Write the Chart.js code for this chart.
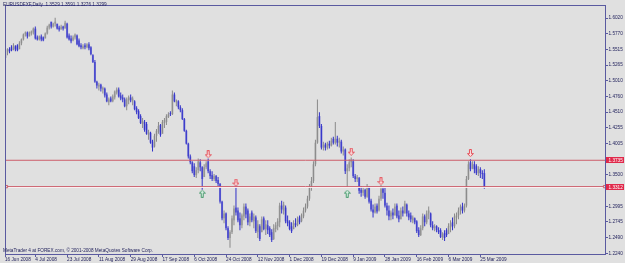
<!DOCTYPE html>
<html><head><meta charset="utf-8">
<script src="https://cdn.jsdelivr.net/npm/chart.js@4/dist/chart.umd.min.js"></script>
<style>html,body{margin:0;padding:0;background:#e0e0e0;}canvas{display:block}</style>
</head><body>
<canvas id="c" width="625" height="263"></canvas>
<script>
const symbolTitle = "EURUSDFXF,Daily  1.3529 1.3591 1.3276 1.3299";
const copyright = "MetaTrader 4 at FOREX.com, \u00a9 2001-2008 MetaQuotes Software Corp.";
const dateLabels = ["16 Jun 2008","4 Jul 2008","23 Jul 2008","11 Aug 2008","29 Aug 2008","17 Sep 2008","6 Oct 2008","24 Oct 2008","12 Nov 2008","1 Dec 2008","19 Dec 2008","9 Jan 2009","28 Jan 2009","16 Feb 2009","6 Mar 2009","25 Mar 2009"];
const barsPerLabel = 16;
const yTickValues = [1.6020,1.5770,1.5515,1.5265,1.5010,1.4760,1.4510,1.4255,1.4005,1.3500,1.2995,1.2745,1.2490,1.2240];

const open = [
1.5377,1.5472,1.5519,1.5551,1.5503,1.5567,1.5582,1.5519,1.5614,1.5677,
1.5756,1.5788,1.5725,1.5772,1.5788,1.5851,1.5709,1.5677,1.5725,1.5709,
1.5693,1.5772,1.5867,1.5962,1.5883,1.5930,1.5930,1.5867,1.5835,1.5883,
1.5851,1.5930,1.5740,1.5693,1.5661,1.5709,1.5740,1.5661,1.5582,1.5535,
1.5582,1.5551,1.5598,1.5551,1.5424,1.5314,1.4998,1.4919,1.4950,1.4871,
1.4887,1.4792,1.4666,1.4729,1.4682,1.4745,1.4824,1.4871,1.4777,1.4745,
1.4713,1.4603,1.4698,1.4745,1.4682,1.4682,1.4571,1.4524,1.4445,1.4318,
1.4350,1.4318,1.4145,1.4176,1.4034,1.3955,1.4129,1.4192,1.4303,1.4160,
1.4334,1.4350,1.4429,1.4492,1.4476,1.4792,1.4666,1.4682,1.4587,1.4540,
1.4397,1.4208,1.4002,1.3797,1.3702,1.3639,1.3497,1.3576,1.3702,1.3623,
1.3465,1.3623,1.3718,1.3560,1.3497,1.3434,1.3481,1.3418,1.3355,1.3070,
1.2802,1.2881,1.2644,1.2486,1.2580,1.2770,1.2975,1.2928,1.2802,1.2691,
1.2833,1.2991,1.2928,1.2738,1.2896,1.2754,1.2817,1.2580,1.2675,1.2580,
1.2802,1.2628,1.2691,1.2644,1.2580,1.2470,1.2628,1.2675,1.2738,1.3007,
1.2928,1.2975,1.2770,1.2738,1.2675,1.2628,1.2723,1.2691,1.2817,1.2754,
1.2833,1.2928,1.2991,1.3118,1.3307,1.3402,1.3671,1.4018,1.4445,1.4287,
1.3939,1.3987,1.3939,1.4002,1.3971,1.4081,1.4018,1.4081,1.4018,1.4034,
1.3876,1.3908,1.3560,1.3607,1.3702,1.3718,1.3481,1.3434,1.3449,1.3260,
1.3212,1.3260,1.3149,1.3307,1.3086,1.2944,1.2896,1.3007,1.2928,1.3118,
1.3276,1.3212,1.3007,1.2928,1.2833,1.2896,1.2849,1.3007,1.2849,1.2786,
1.2928,1.2881,1.3023,1.2881,1.2849,1.2770,1.2802,1.2754,1.2612,1.2533,
1.2644,1.2833,1.2738,1.2881,1.2881,1.2691,1.2644,1.2675,1.2612,1.2612,
1.2501,1.2565,1.2612,1.2549,1.2659,1.2738,1.2675,1.2817,1.2849,1.2928,
1.2991,1.2928,1.3007,1.3434,1.3702,1.3607,1.3671,1.3639,1.3528,1.3592,
1.3528,1.3529];
const high = [
1.5503,1.5535,1.5551,1.5582,1.5614,1.5582,1.5598,1.5646,1.5693,1.5772,
1.5804,1.5804,1.5804,1.5819,1.5867,1.5883,1.5740,1.5740,1.5756,1.5725,
1.5788,1.5898,1.5930,1.5962,1.5946,1.6025,1.5930,1.5898,1.5914,1.5898,
1.5977,1.5946,1.5772,1.5740,1.5740,1.5772,1.5756,1.5693,1.5614,1.5598,
1.5614,1.5614,1.5630,1.5567,1.5440,1.5345,1.5014,1.4982,1.4966,1.4919,
1.4903,1.4824,1.4745,1.4761,1.4792,1.4856,1.4903,1.4903,1.4824,1.4792,
1.4745,1.4745,1.4777,1.4792,1.4761,1.4698,1.4603,1.4555,1.4476,1.4413,
1.4382,1.4350,1.4224,1.4192,1.4066,1.4160,1.4239,1.4350,1.4318,1.4382,
1.4413,1.4476,1.4508,1.4524,1.4856,1.4824,1.4713,1.4698,1.4619,1.4571,
1.4413,1.4224,1.4018,1.3829,1.3718,1.3686,1.3623,1.3765,1.3750,1.3639,
1.3671,1.3718,1.3765,1.3592,1.3560,1.3513,1.3497,1.3465,1.3370,1.3086,
1.2928,1.2896,1.2675,1.2612,1.2849,1.3007,1.3339,1.2975,1.2896,1.2881,
1.3039,1.3039,1.2960,1.2881,1.2928,1.2881,1.2849,1.2770,1.2707,1.2833,
1.2833,1.2770,1.2770,1.2675,1.2628,1.2707,1.2738,1.2802,1.3054,1.3086,
1.3070,1.3007,1.2849,1.2770,1.2738,1.2770,1.2802,1.2833,1.2849,1.2881,
1.2975,1.3039,1.3165,1.3355,1.3465,1.3718,1.4066,1.4713,1.4508,1.4318,
1.4034,1.4018,1.4034,1.4050,1.4097,1.4113,1.4350,1.4129,1.4097,1.4066,
1.3955,1.3923,1.3671,1.3750,1.3781,1.3750,1.3513,1.3497,1.3465,1.3323,
1.3307,1.3276,1.3355,1.3323,1.3118,1.3023,1.3039,1.3039,1.3165,1.3339,
1.3307,1.3291,1.3054,1.3007,1.2928,1.2960,1.3039,1.3039,1.2928,1.2975,
1.2991,1.3086,1.3039,1.2928,1.2896,1.2849,1.2817,1.2770,1.2659,1.2691,
1.2881,1.2865,1.2928,1.2991,1.2896,1.2754,1.2707,1.2691,1.2659,1.2644,
1.2580,1.2612,1.2644,1.2723,1.2770,1.2817,1.2881,1.2896,1.2975,1.3023,
1.3054,1.3039,1.3481,1.3718,1.3750,1.3718,1.3718,1.3671,1.3639,1.3623,
1.3576,1.3591];
const low = [
1.5345,1.5424,1.5456,1.5488,1.5503,1.5488,1.5488,1.5519,1.5582,1.5661,
1.5725,1.5693,1.5725,1.5740,1.5756,1.5677,1.5661,1.5661,1.5646,1.5646,
1.5693,1.5756,1.5835,1.5851,1.5867,1.5883,1.5835,1.5804,1.5835,1.5819,
1.5851,1.5693,1.5661,1.5614,1.5646,1.5677,1.5582,1.5551,1.5519,1.5519,
1.5519,1.5535,1.5503,1.5424,1.5298,1.4982,1.4887,1.4856,1.4840,1.4808,
1.4745,1.4666,1.4619,1.4666,1.4666,1.4713,1.4792,1.4745,1.4698,1.4666,
1.4587,1.4540,1.4634,1.4666,1.4619,1.4540,1.4476,1.4397,1.4318,1.4255,
1.4192,1.4145,1.4066,1.4002,1.3876,1.3939,1.4034,1.4160,1.4113,1.4160,
1.4255,1.4303,1.4413,1.4445,1.4461,1.4666,1.4603,1.4555,1.4508,1.4382,
1.4192,1.3987,1.3765,1.3671,1.3528,1.3465,1.3449,1.3528,1.3560,1.3260,
1.3465,1.3592,1.3528,1.3434,1.3402,1.3402,1.3370,1.3323,1.3039,1.2770,
1.2723,1.2612,1.2454,1.2328,1.2549,1.2691,1.2849,1.2738,1.2612,1.2644,
1.2770,1.2802,1.2691,1.2675,1.2738,1.2644,1.2565,1.2486,1.2438,1.2580,
1.2612,1.2533,1.2549,1.2501,1.2422,1.2454,1.2580,1.2612,1.2659,1.2881,
1.2865,1.2723,1.2675,1.2612,1.2565,1.2628,1.2659,1.2675,1.2707,1.2738,
1.2802,1.2896,1.2960,1.3086,1.3244,1.3370,1.3639,1.4002,1.4255,1.3908,
1.3892,1.3892,1.3908,1.3923,1.3955,1.3987,1.3987,1.3955,1.3939,1.3844,
1.3813,1.3513,1.3307,1.3560,1.3623,1.3449,1.3386,1.3386,1.3197,1.3149,
1.3165,1.3118,1.3133,1.3039,1.2912,1.2817,1.2881,1.2881,1.2912,1.3086,
1.3118,1.2975,1.2849,1.2770,1.2770,1.2786,1.2849,1.2802,1.2738,1.2786,
1.2833,1.2881,1.2833,1.2770,1.2738,1.2723,1.2707,1.2565,1.2501,1.2517,
1.2612,1.2675,1.2707,1.2786,1.2659,1.2612,1.2596,1.2580,1.2549,1.2486,
1.2454,1.2438,1.2501,1.2549,1.2580,1.2612,1.2644,1.2707,1.2786,1.2865,
1.2881,1.2896,1.2975,1.3418,1.3560,1.3592,1.3528,1.3497,1.3481,1.3449,
1.3434,1.3276];
const close = [
1.5472,1.5519,1.5488,1.5503,1.5582,1.5519,1.5503,1.5614,1.5677,1.5756,
1.5788,1.5725,1.5788,1.5804,1.5851,1.5693,1.5677,1.5725,1.5677,1.5661,
1.5772,1.5867,1.5914,1.5883,1.5930,1.5962,1.5851,1.5835,1.5883,1.5851,
1.5946,1.5709,1.5677,1.5646,1.5709,1.5756,1.5598,1.5567,1.5551,1.5567,
1.5551,1.5598,1.5535,1.5440,1.5314,1.4998,1.4935,1.4950,1.4887,1.4903,
1.4777,1.4682,1.4713,1.4682,1.4761,1.4840,1.4871,1.4761,1.4729,1.4713,
1.4603,1.4713,1.4745,1.4698,1.4729,1.4555,1.4508,1.4413,1.4334,1.4366,
1.4224,1.4160,1.4192,1.4018,1.3939,1.4129,1.4208,1.4287,1.4145,1.4350,
1.4382,1.4445,1.4476,1.4476,1.4792,1.4682,1.4698,1.4587,1.4540,1.4397,
1.4208,1.4002,1.3797,1.3702,1.3560,1.3497,1.3576,1.3718,1.3623,1.3434,
1.3623,1.3686,1.3560,1.3481,1.3434,1.3481,1.3402,1.3355,1.3070,1.2802,
1.2881,1.2644,1.2486,1.2580,1.2802,1.2960,1.2896,1.2770,1.2691,1.2849,
1.2991,1.2865,1.2738,1.2833,1.2770,1.2833,1.2596,1.2707,1.2470,1.2786,
1.2628,1.2707,1.2612,1.2533,1.2454,1.2644,1.2691,1.2754,1.3007,1.2944,
1.3023,1.2754,1.2723,1.2628,1.2596,1.2723,1.2691,1.2786,1.2738,1.2849,
1.2928,1.2991,1.3118,1.3307,1.3402,1.3671,1.4018,1.4429,1.4287,1.3939,
1.3987,1.3939,1.4002,1.3971,1.4050,1.4018,1.4081,1.4018,1.4050,1.3876,
1.3908,1.3560,1.3607,1.3702,1.3750,1.3481,1.3434,1.3465,1.3244,1.3212,
1.3260,1.3149,1.3307,1.3070,1.2944,1.2896,1.2991,1.2912,1.3118,1.3276,
1.3212,1.3007,1.2928,1.2833,1.2896,1.2849,1.2991,1.2833,1.2786,1.2928,
1.2881,1.3039,1.2881,1.2817,1.2786,1.2817,1.2738,1.2596,1.2533,1.2644,
1.2833,1.2738,1.2881,1.2928,1.2691,1.2644,1.2675,1.2612,1.2580,1.2501,
1.2549,1.2486,1.2533,1.2675,1.2723,1.2675,1.2833,1.2849,1.2928,1.2991,
1.2928,1.3007,1.3434,1.3671,1.3592,1.3671,1.3592,1.3528,1.3592,1.3528,
1.3513,1.3299];

const resistanceLevel = 1.3735;
const supportLevel = 1.3312;
const lastPrice = 1.3299;
const downArrowIdx = [102,116,174,189,234];
const downArrowVal = [1.3831,1.3376,1.3874,1.3399,1.3850];
const upArrowIdx = [99,172];
const upArrowVal = [1.3199,1.3199];

const UP_WICK='#8a8a8a', UP_BODY='#b2b2b2', DN_WICK='#3030c8', DN_BODY='#7a7ad6';
const AXIS='#5a5aa0', TEXT='#24245e', LEVEL='#cc5d6a';
const FONT='"Liberation Sans", Arial, sans-serif';

function makeArrow(down, stroke, fill){
  const c=document.createElement('canvas'); c.width=7; c.height=8;
  const g=c.getContext('2d');
  const pts=[[2.5,0.5],[4.5,0.5],[4.5,4.5],[6.5,4.5],[3.5,7.5],[0.5,4.5],[2.5,4.5]];
  g.beginPath();
  pts.forEach((p,i)=>{const y=down?p[1]:8-p[1]; if(i) g.lineTo(p[0],y); else g.moveTo(p[0],y);});
  g.closePath(); g.fillStyle=fill; g.fill(); g.strokeStyle=stroke; g.lineWidth=1; g.stroke();
  return c;
}
const redArrow=makeArrow(true,'#e4505a','#fbe2e2');
const greenArrow=makeArrow(false,'#4c9c70','#def2e6');

const isUp = close.map((c,i)=>c>=open[i]);
const xMin=-0.25, xMax=302.25;

const framePlugin={id:'frame',
  afterDraw(chart){
    const a=chart.chartArea, ctx=chart.ctx, y=chart.scales.y;
    ctx.save();
    ctx.strokeStyle=AXIS; ctx.lineWidth=1;
    ctx.strokeRect(a.left+0.5,a.top+0.5,a.right-a.left-1,a.bottom-a.top-1);
    const box=(v,bg,txt)=>{
      const py=Math.round(y.getPixelForValue(v));
      ctx.fillStyle=bg; ctx.fillRect(a.right,py-3,18,6);
      ctx.fillStyle='#ffffff'; ctx.font='4.7px '+FONT; ctx.textBaseline='middle'; ctx.textAlign='left';
      ctx.fillText(txt,a.right+2.5,py+0.3);
    };
    box(lastPrice,'#16166a',lastPrice.toFixed(4));
    box(resistanceLevel,'#e0284a',resistanceLevel.toFixed(4));
    box(supportLevel,'#e0284a',supportLevel.toFixed(4));
    ctx.fillStyle=TEXT; ctx.font='4.7px '+FONT; ctx.textBaseline='alphabetic'; ctx.textAlign='left';
    ctx.fillText(symbolTitle,3,6.3);
    ctx.fillText(copyright,3,251.8);
    ctx.restore();
  }};

new Chart(document.getElementById('c'),{
  type:'bar',
  data:{datasets:[
    {type:'line',data:[{x:xMin,y:resistanceLevel},{x:xMax,y:resistanceLevel}],borderColor:LEVEL,borderWidth:1,pointRadius:0,order:1},
    {type:'line',data:[{x:xMin,y:supportLevel},{x:xMax,y:supportLevel}],borderColor:LEVEL,borderWidth:1,pointRadius:0,order:1},
    {type:'line',data:[{x:xMin,y:lastPrice},{x:xMax,y:lastPrice}],borderColor:'#ffffff',borderWidth:1,pointRadius:0,order:2},
    {type:'line',showLine:false,data:[{x:0.5,y:supportLevel},{x:301.5,y:supportLevel}],pointStyle:'rect',pointRadius:1.6,borderColor:LEVEL,backgroundColor:'#e0e0e0',borderWidth:1,order:0},
    {type:'line',showLine:false,data:downArrowIdx.map((x,k)=>({x:x,y:downArrowVal[k]})),pointStyle:redArrow,pointRadius:4,order:0},
    {type:'line',showLine:false,data:upArrowIdx.map((x,k)=>({x:x,y:upArrowVal[k]})),pointStyle:greenArrow,pointRadius:4,order:0},
    {data:high.map((h,i)=>({x:i,y:[low[i],h]})),barThickness:1,grouped:false,inflateAmount:0,borderWidth:0,
      backgroundColor:isUp.map(u=>u?UP_WICK:DN_WICK),order:3},
    {data:open.map((o,i)=>({x:i,y:[Math.min(o,close[i]),Math.max(o,close[i])]})),barThickness:2,grouped:false,inflateAmount:0,borderWidth:0,minBarLength:1,
      backgroundColor:isUp.map(u=>u?UP_BODY:DN_BODY),order:4}
  ]},
  options:{
    responsive:false,animation:false,devicePixelRatio:1,
    layout:{padding:{left:1,top:1,right:0,bottom:0}},
    plugins:{legend:{display:false},tooltip:{enabled:false},title:{display:false}},
    scales:{
      x:{type:'linear',min:xMin,max:xMax,bounds:'data',offset:false,
        afterBuildTicks:s=>{s.ticks=dateLabels.map((d,k)=>({value:Math.max(k*barsPerLabel-1,xMin)}));},
        afterFit:s=>{s.height=8;},
        ticks:{callback:(v,i)=>dateLabels[i],align:'start',maxRotation:0,minRotation:0,autoSkip:false,padding:0,
          font:{family:FONT,size:4.7},color:TEXT},
        grid:{drawOnChartArea:false,tickLength:2,color:AXIS,offset:false},
        border:{display:false}},
      y:{type:'linear',position:'right',min:1.2213,max:1.6230,bounds:'data',beginAtZero:false,
        afterBuildTicks:s=>{s.ticks=yTickValues.map(v=>({value:v}));},
        afterFit:s=>{s.width=19;},
        ticks:{callback:v=>Number(v).toFixed(4),autoSkip:false,padding:0.5,font:{family:FONT,size:4.7},color:TEXT},
        grid:{drawOnChartArea:false,tickLength:2,color:AXIS},
        border:{display:false}}
    }
  },
  plugins:[framePlugin]
});
</script>
</body></html>
